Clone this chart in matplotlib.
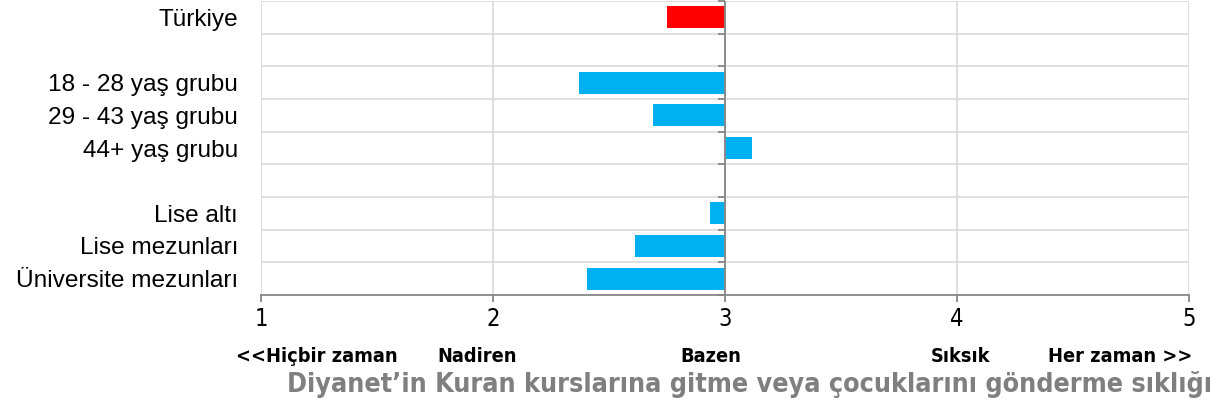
import matplotlib
matplotlib.use("Agg")
import matplotlib.pyplot as plt
from matplotlib.markers import TICKLEFT

labels = ["Türkiye", "", "18 - 28 yaş grubu", "29 - 43 yaş grubu", "44+ yaş grubu",
          "", "Lise altı", "Lise mezunları", "Üniversite mezunları"]
values = [2.75, None, 2.37, 2.69, 3.115, None, 2.935, 2.61, 2.405]
colors = ["#FF0000", None, "#00B0F0", "#00B0F0", "#00B0F0", None, "#00B0F0", "#00B0F0", "#00B0F0"]
base = 3
xticks = [1, 2, 3, 4, 5]
scale_labels = ["<<Hiçbir zaman", "Nadiren", "Bazen", "Sıksık", "Her zaman >>"]
title = "Diyanet’in Kuran kurslarına gitme veya çocuklarını gönderme sıklığı"

narrow = dict(family="DejaVu Sans", stretch="condensed")

fig = plt.figure(figsize=(12.2, 4.09), dpi=100)
ax = fig.add_axes([261 / 1220, 1 - 295 / 409, (1189 - 261) / 1220, 294 / 409])

for i, (v, c) in enumerate(zip(values, colors)):
    if v is None:
        continue
    ax.barh(i, v - base, left=base, height=0.68, color=c, zorder=3)

n = len(labels)
ax.set_ylim(n - 0.5, -0.5)
ax.set_xlim(1, 5)
ax.set_yticks(range(n))
ax.set_yticklabels(labels, fontsize=17.6, family="Liberation Sans")
ax.tick_params(axis="y", length=0, pad=16.5)

# row separators and value gridlines
bounds = [i - 0.5 for i in range(n + 1)]
for b in bounds[:-1]:
    ax.axhline(b, color="#D9D9D9", lw=1.2, zorder=1)
for x in xticks:
    ax.axvline(x, color="#D9D9D9", lw=1.2, zorder=1)
ax.axvline(base, color="#868686", lw=1.3, zorder=4)
ax.plot([base] * len(bounds), bounds, ls="none", marker=TICKLEFT, ms=5,
        mew=1.3, color="#868686", zorder=4, clip_on=False)

for s in ["top", "right", "left"]:
    ax.spines[s].set_visible(False)
ax.spines["bottom"].set_color("#868686")
ax.spines["bottom"].set_linewidth(1.3)
ax.set_xticks(xticks)
ax.set_xticklabels([str(x) for x in xticks], fontsize=17, **narrow)
ax.tick_params(axis="x", length=5, width=1.3, color="#868686", pad=4)

# scale labels under the axis
pos = [(236, "left"), (477, "center"), (711, "center"), (960, "center"), (1192, "right")]
for (px, ha), t in zip(pos, scale_labels):
    fig.text(px / 1220, 1 - 357 / 409, t, ha=ha, va="center", fontsize=14.3,
             fontweight="bold", **narrow)

fig.text(1212 / 1220, 1 - 385 / 409, title, ha="right", va="center", fontsize=19.3,
         fontweight="heavy", color="#7F7F7F", **narrow)

fig.savefig("out.png", dpi=100)
